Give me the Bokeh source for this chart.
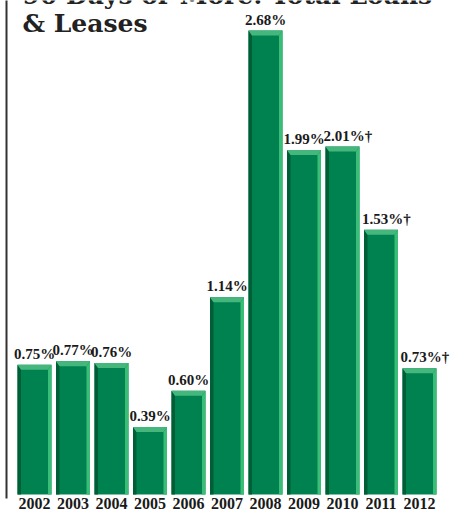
from bokeh.plotting import figure
from bokeh.models import Range1d, Label, BoxAnnotation
from bokeh.embed import file_html
from bokeh.resources import INLINE
from bokeh.core.properties import value

# ---- data ----
years = [2002, 2003, 2004, 2005, 2006, 2007, 2008, 2009, 2010, 2011, 2012]
rates = [0.75, 0.77, 0.76, 0.39, 0.60, 1.14, 2.68, 1.99, 2.01, 1.53, 0.73]
labels = ["0.75%", "0.77%", "0.76%", "0.39%", "0.60%", "1.14%", "2.68%",
          "1.99%", "2.01%\u2020", "1.53%\u2020", "0.73%\u2020"]
year_labels = [str(y) for y in years]
title_lines = ["90 Days or More: Total Loans", "& Leases"]

# ---- layout constants ----
W, H = 457, 510
PPX = 38.5          # pixels per year
FIRST_CX = 34.0     # pixel centre of first bar
PPY = 173.1         # pixels per percentage point
ZERO_PY = 494.0     # pixel row of the baseline (from top)

x0 = years[0] - FIRST_CX / PPX
x1 = x0 + W / PPX
y1 = ZERO_PY / PPY
y0 = -(H - ZERO_PY) / PPY

def px2x(px):
    return x0 + px / PPX

def py2y(py):
    return y1 - py / PPY

p = figure(width=W, height=H, output_backend="svg", toolbar_location=None,
           x_range=Range1d(x0, x1), y_range=Range1d(y0, y1),
           x_axis_type=None, y_axis_type=None, min_border=0,
           background_fill_color="white", border_fill_color="white")
p.outline_line_color = None
p.xgrid.visible = False
p.ygrid.visible = False

bw = 34.0 / PPX
dx = 3.5 / PPX
dy = 5.0 / PPY

MAIN = "#008250"
DARK = "#005e36"
LIGHT = "#3abd76"
TOP = "#46b77c"

# main bars
p.vbar(x=years, top=rates, bottom=0, width=bw, fill_color=MAIN, line_color=None)

# bevels
left_xs, left_ys, right_xs, right_ys, top_xs, top_ys = [], [], [], [], [], []
for x, v in zip(years, rates):
    l, r = x - bw / 2, x + bw / 2
    left_xs.append([l, l + dx, l + dx, l])
    left_ys.append([0, 0, v - dy, v])
    right_xs.append([r - dx, r, r, r - dx])
    right_ys.append([0, 0, v, v - dy])
    top_xs.append([l, r, r - dx, l + dx])
    top_ys.append([v, v, v - dy, v - dy])
p.patches(left_xs, left_ys, fill_color=DARK, line_color=None)
p.patches(right_xs, right_ys, fill_color=LIGHT, line_color=None)
p.patches(top_xs, top_ys, fill_color=TOP, line_color=None)

FONT = value("Liberation Serif")
# value labels
plain = [i for i, t in enumerate(labels) if "\u2020" not in t]
dag = [i for i, t in enumerate(labels) if "\u2020" in t]
p.text(x=[years[i] for i in plain], y=[rates[i] for i in plain],
       text=[labels[i] for i in plain], y_offset=-3,
       text_align="center", text_baseline="bottom",
       text_font=FONT, text_font_style="bold", text_font_size="15px",
       text_color="#1a1a1a")
p.text(x=[years[i] - bw / 2 for i in dag], y=[rates[i] for i in dag],
       text=[labels[i] for i in dag], y_offset=-3, x_offset=-2,
       text_align="left", text_baseline="bottom",
       text_font=FONT, text_font_style="bold", text_font_size="15px",
       text_color="#1a1a1a")

# year labels
p.text(x=years, y=[0] * len(years), text=year_labels, y_offset=3,
       text_align="center", text_baseline="top",
       text_font=FONT, text_font_style="bold", text_font_size="16px",
       text_color="#1a1a1a")

# title (first line cut off by the top edge)
for i, t in enumerate(title_lines):
    p.add_layout(Label(x=px2x(22), y=py2y(-5 + 28 * i), text=t,
                       text_font="DejaVu Serif", text_font_style="bold",
                       text_font_size="25px", text_color="#222222",
                       text_baseline="alphabetic", text_align="left"))

# left border rule
p.add_layout(BoxAnnotation(left=px2x(5), right=px2x(7), top=py2y(-5), bottom=py2y(498),
                           fill_color="#333333", fill_alpha=1.0, line_color=None))

open("out.html", "w").write(file_html(p, INLINE))
